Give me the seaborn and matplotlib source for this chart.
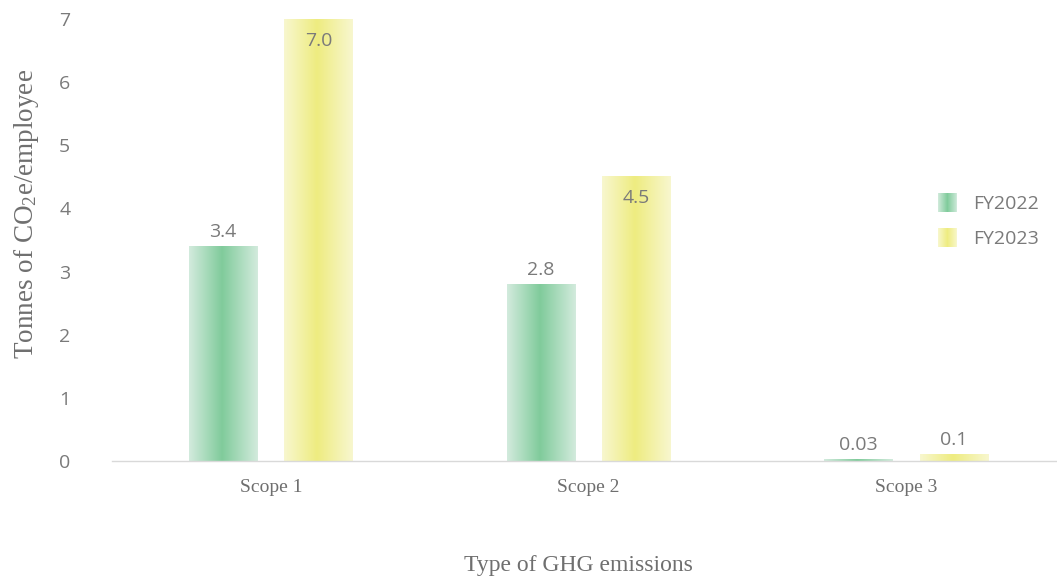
import numpy as np
import pandas as pd
import matplotlib
matplotlib.use("Agg")
import matplotlib.pyplot as plt
import seaborn as sns
from matplotlib.colors import LinearSegmentedColormap
from matplotlib.legend_handler import HandlerBase
from matplotlib.patches import Rectangle
from matplotlib.ticker import FixedLocator

# ---- data ----
scopes = ["Scope 1", "Scope 2", "Scope 3"]
years = ["FY2022", "FY2023"]
fy2022 = [3.4, 2.8, 0.03]
fy2023 = [7.0, 4.5, 0.1]
labels_fy2022 = ["3.4", "2.8", "0.03"]
labels_fy2023 = ["7.0", "4.5", "0.1"]
y_ticks = [0, 1, 2, 3, 4, 5, 6, 7]

# label placement per series: True = just inside the bar end
inside_fy2022 = [False, False, False]
inside_fy2023 = [True, True, False]

df = pd.DataFrame({
    "scope": scopes * 2,
    "year": [years[0]] * len(scopes) + [years[1]] * len(scopes),
    "value": fy2022 + fy2023,
})

sns.set_theme(style="white")
plt.rcParams["font.family"] = ["Open Sans", "DejaVu Sans"]
plt.rcParams["mathtext.fontset"] = "custom"
plt.rcParams["mathtext.rm"] = "Liberation Serif"
plt.rcParams["mathtext.default"] = "rm"

TEXT = "#7a7a7a"
TITLE = "#6f6f6f"
SERIF = ["Liberation Serif", "DejaVu Serif"]

green_cmap = LinearSegmentedColormap.from_list(
    "green_bar", [(0.0, "#d3ebdd"), (0.48, "#80cb9b"), (1.0, "#d3ebdd")])
yellow_cmap = LinearSegmentedColormap.from_list(
    "yellow_bar", [(0.0, "#f8f7cf"), (0.48, "#eeec80"), (1.0, "#f8f7cf")])
cmaps = [green_cmap, yellow_cmap]

fig = plt.figure(figsize=(10.57, 5.83), dpi=100)
ax = fig.add_axes([112 / 1057, 122 / 583, 953 / 1057, 442 / 583])

sns.barplot(data=df, x="scope", y="value", hue="year", order=scopes,
            hue_order=years, palette=["#80cb9b", "#eeec80"],
            width=0.6, gap=0.285, legend=False, ax=ax, errorbar=None)


def fill_gradient(bar, cmap):
    """Replace a flat bar fill with a horizontal light-dark-light gradient."""
    x, y = bar.get_x(), bar.get_y()
    w, h = bar.get_width(), bar.get_height()
    grad = np.linspace(0, 1, 256).reshape(1, -1)
    ax.imshow(grad, cmap=cmap, aspect="auto", interpolation="bilinear",
              extent=(x, x + w, y, y + h), zorder=bar.get_zorder())
    bar.set_facecolor("none")
    bar.set_edgecolor("none")


label_sets = [labels_fy2022, labels_fy2023]
inside_sets = [inside_fy2022, inside_fy2023]
for container, cmap, texts, inside in zip(ax.containers, cmaps, label_sets, inside_sets):
    for bar, txt, ins in zip(container, texts, inside):
        fill_gradient(bar, cmap)
        cx = bar.get_x() + bar.get_width() / 2
        top = bar.get_y() + bar.get_height()
        if ins:
            ax.annotate(txt, (cx, top), xytext=(0, -9), textcoords="offset points",
                        ha="center", va="top", fontsize=14, color=TEXT)
        else:
            ax.annotate(txt, (cx, top), xytext=(0, 4), textcoords="offset points",
                        ha="center", va="bottom", fontsize=14, color=TEXT)

ax.set_xlim(-0.5, 2.5)
ax.set_ylim(0, 7)
ax.set_yticks(y_ticks)
ax.set_yticklabels([str(t) for t in y_ticks], fontsize=14, color=TEXT)
ax.set_xticks(range(len(scopes)))
ax.set_xticklabels(scopes, fontsize=14, color=TITLE, family=SERIF)

for s in ["top", "right", "left"]:
    ax.spines[s].set_visible(False)
ax.spines["bottom"].set_color("#d9d9d9")
ax.spines["bottom"].set_linewidth(1.0)

ax.tick_params(axis="y", length=0, pad=30)
ax.tick_params(axis="x", which="major", length=0, pad=13)
ax.xaxis.set_minor_locator(FixedLocator([0.5, 1.5]))
ax.tick_params(axis="x", which="minor", direction="in", length=7.5,
               width=1.0, color="#d9d9d9")

ax.set_xlabel("Type of GHG emissions", fontsize=17, color=TITLE, family=SERIF)
ax.set_ylabel("Tonnes of CO$_2$e/employee", fontsize=19.5, color=TITLE, family=SERIF)

# axis titles placed relative to the plotting area
ax.xaxis.set_label_coords((578 - 112) / 953, -(565 - 461) / 442)
ax.xaxis.label.set_va("center")
ax.yaxis.set_label_coords(-(112 - 27) / 953, (461 - 214) / 442)
ax.yaxis.label.set_va("center")


class GradientHandler(HandlerBase):
    """Legend key drawn as vertical strips following the bar gradient."""

    def __init__(self, cmap, n=40):
        super().__init__()
        self.cmap = cmap
        self.n = n

    def create_artists(self, legend, orig_handle, xdescent, ydescent,
                       width, height, fontsize, trans):
        arts = []
        for i in range(self.n):
            r = Rectangle((-xdescent + width * i / self.n, -ydescent),
                          width / self.n * 1.05, height,
                          facecolor=self.cmap((i + 0.5) / self.n),
                          edgecolor="none", transform=trans)
            arts.append(r)
        return arts


proxies = [Rectangle((0, 0), 1, 1) for _ in years]
leg = fig.legend(proxies, years,
                 handler_map={p: GradientHandler(c) for p, c in zip(proxies, cmaps)},
                 loc="upper left", bbox_to_anchor=(938 / 1057, 1 - 193 / 583),
                 bbox_transform=fig.transFigure, frameon=False, fontsize=14,
                 handlelength=1.0, handleheight=1.15, handletextpad=0.8,
                 labelspacing=0.75, borderpad=0, borderaxespad=0)
for t in leg.get_texts():
    t.set_color(TEXT)

fig.savefig("out.png", dpi=100)
